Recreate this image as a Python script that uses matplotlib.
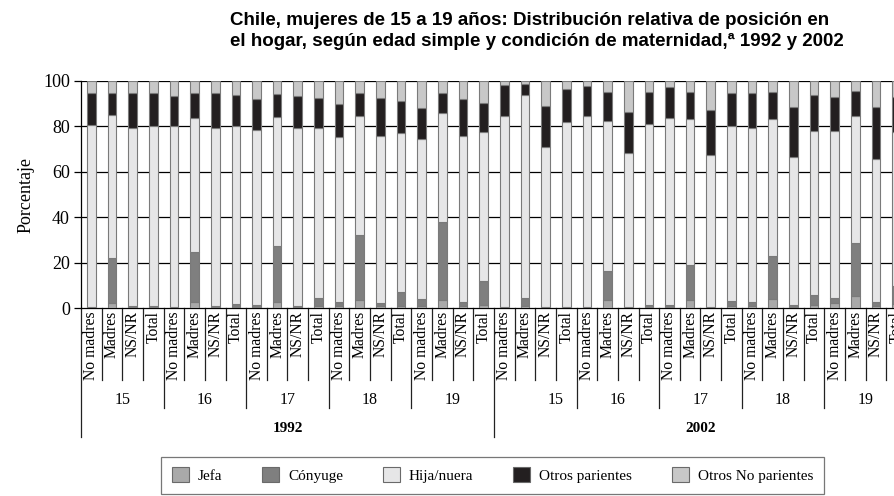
import numpy as np
import matplotlib
matplotlib.use("Agg")
import matplotlib.pyplot as plt
from matplotlib.patches import Patch

plt.rcParams['font.family'] = ['Liberation Serif', 'DejaVu Serif']

years = ["1992", "2002"]
ages = ["15", "16", "17", "18", "19"]
conds = ["No madres", "Madres", "NS/NR", "Total"]
series = ["Jefa", "Cónyuge", "Hija/nuera", "Otros parientes", "Otros No parientes"]

# 1992 then 2002, each age: No madres, Madres, NS/NR, Total
jefa = [0.3, 2.2, 0.4, 0.5,  0.4, 2.6, 0.4, 0.6,  0.5, 2.6, 0.4, 0.8,  0.9, 3.6, 0.8, 1.0,  1.2, 3.6, 0.8, 1.5,
        0.2, 1.0, 0.2, 0.3,  0.3, 3.6, 0.3, 0.5,  0.5, 3.6, 0.3, 0.8,  1.0, 4.0, 0.5, 1.5,  2.4, 5.4, 1.0, 2.0]
conyuge = [0.3, 19.8, 0.4, 0.5,  0.3, 22.3, 0.4, 1.5,  1.0, 24.8, 0.4, 3.6,  1.7, 28.6, 1.4, 6.3,  2.8, 34.5, 1.8, 10.5,
           0.2, 3.4, 0.2, 0.3,  0.3, 12.9, 0.3, 1.0,  0.8, 15.4, 0.3, 2.4,  1.6, 19.1, 1.0, 4.3,  2.3, 23.1, 1.6, 8.0]
hija = [80.0, 62.9, 78.3, 79.1,  79.4, 58.6, 78.6, 78.0,  76.8, 56.5, 78.3, 74.7,  72.8, 52.3, 73.5, 69.9,  70.4, 47.6, 73.1, 65.3,
        84.2, 89.3, 70.6, 81.1,  84.0, 65.9, 67.5, 79.5,  82.2, 64.0, 66.8, 76.9,  76.8, 59.9, 64.8, 72.1,  73.3, 56.1, 62.9, 67.5]
otros_par = [13.9, 9.6, 15.7, 14.4,  13.2, 11.3, 15.1, 13.6,  13.7, 10.3, 14.2, 13.4,  14.2, 10.0, 16.8, 14.0,  13.8, 8.8, 16.1, 13.0,
             13.5, 4.8, 18.0, 14.5,  13.2, 12.8, 18.0, 14.2,  13.6, 12.2, 19.7, 14.6,  15.1, 12.2, 22.3, 15.8,  14.7, 11.0, 23.1, 15.5]
otros_np = [5.5, 5.5, 5.2, 5.5,  6.7, 5.2, 5.5, 6.3,  8.0, 5.8, 6.7, 7.5,  10.4, 5.5, 7.5, 8.8,  11.8, 5.5, 8.2, 9.7,
            1.9, 1.5, 11.0, 3.8,  2.2, 4.8, 13.9, 4.8,  2.9, 4.8, 12.9, 5.3,  5.5, 4.8, 11.4, 6.3,  7.3, 4.4, 11.4, 7.0]

colors = ["#a9a9a9", "#7f7f7f", "#e6e6e7", "#231f20", "#c8c8c8"]

fig = plt.figure(figsize=(8.94, 4.96), dpi=100)
ax = fig.add_axes([0.0906, 0.3784, 0.9239, 0.4589])

n = len(jefa)
x = np.arange(n)
bottom = np.zeros(n)
for vals, c in zip([jefa, conyuge, hija, otros_par, otros_np], colors):
    ax.bar(x, vals, 0.42, bottom=bottom, color=c, edgecolor="#7a7a7a", linewidth=0.8, zorder=3)
    bottom += np.array(vals)

ax.set_xlim(-0.5, n - 0.5)
ax.set_ylim(0, 100)
ax.set_yticks([0, 20, 40, 60, 80, 100])
ax.tick_params(axis='y', labelsize=13, length=5, width=0.9, direction='out', pad=3)
ax.set_xticks([])
for yv in [20, 40, 60, 80, 100]:
    ax.axhline(yv, color="black", lw=0.9, zorder=1)
for s in ["top", "right"]:
    ax.spines[s].set_visible(False)
ax.spines["left"].set_linewidth(0.9)
ax.spines["bottom"].set_linewidth(0.9)
ax.set_ylabel("Porcentaje", fontsize=13, labelpad=6)

# category axis below the plot
tr = ax.get_xaxis_transform()
for i in range(n + 1):
    if i % 20 == 0:
        yb = -0.567
    elif i % 4 == 0:
        yb = -0.439
    else:
        yb = -0.316
    ax.plot([i - 0.5, i - 0.5], [0, yb], color="#222222", lw=0.9, clip_on=False, transform=tr)

for i in range(n):
    ax.text(i, -0.012, conds[i % 4], rotation=90, ha="center", va="top",
            fontsize=11.3, transform=tr)

for yi, yr in enumerate(years):
    for ai, ag in enumerate(ages):
        cx = yi * 20 + ai * 4 + 1.5
        if yi == 1 and ai == 0:
            cx += 1.0
        ax.text(cx, -0.403, ag, ha="center", va="center", fontsize=11.5, transform=tr)
    ax.text(yi * 20 + 9.5, -0.526, yr, ha="center", va="center", fontsize=11,
            fontweight="bold", transform=tr)

fig.text(0.257, 0.975, "Chile, mujeres de 15 a 19 años: Distribución relativa de posición en\n"
         "el hogar, según edad simple y condición de maternidad,ª 1992 y 2002",
         ha="left", va="top", fontsize=13.5, fontweight="bold",
         family=["Liberation Sans", "DejaVu Sans"], linespacing=1.25)

handles = [Patch(facecolor=c, edgecolor="#6a6a6a", linewidth=0.8, label=s) for c, s in zip(colors, series)]
leg = fig.legend(handles=handles, loc="center", bbox_to_anchor=(0.551, 0.042), ncol=5,
                 fontsize=11, frameon=True, fancybox=False, edgecolor="#555555",
                 handlelength=1.1, handleheight=1.1, columnspacing=2.6, handletextpad=0.6,
                 borderpad=0.7)
leg.get_frame().set_linewidth(0.9)

fig.savefig("out.png", dpi=100)
